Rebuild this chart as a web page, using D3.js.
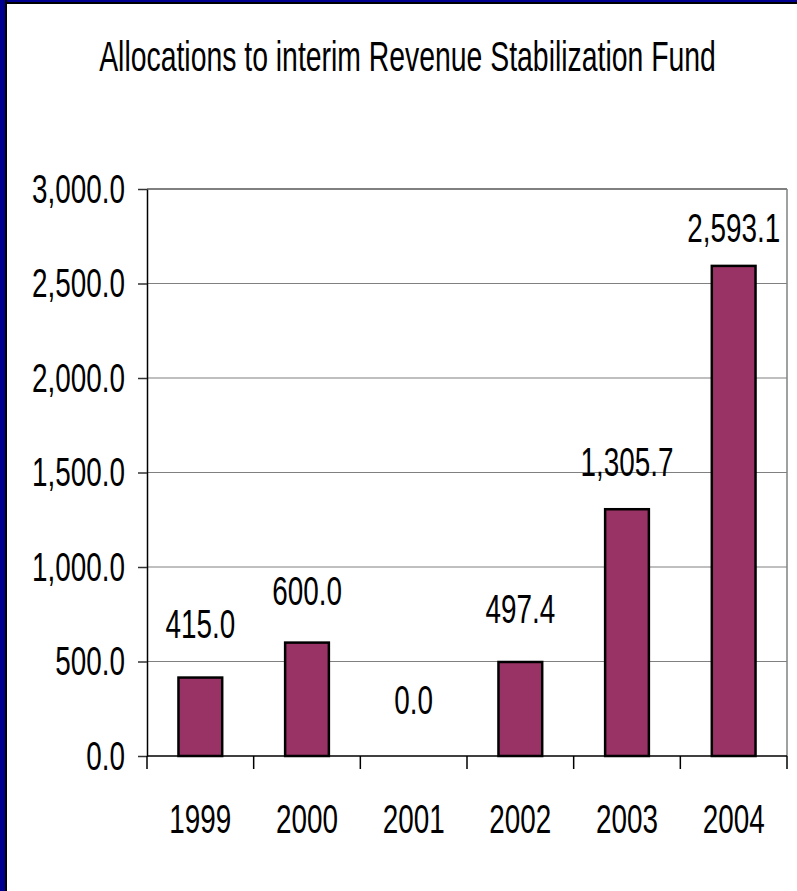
<!DOCTYPE html>
<html>
<head>
<meta charset="utf-8">
<script src="https://cdn.jsdelivr.net/npm/d3@7"></script>
<style>
  html, body { margin: 0; padding: 0; background: #fff; }
  svg { display: block; }
  text { font-family: "Liberation Sans", Arial, sans-serif; fill: #000; }
</style>
</head>
<body>
<div id="chart"></div>
<script>
const title = "Allocations to interim Revenue Stabilization Fund";
const categories = ["1999", "2000", "2001", "2002", "2003", "2004"];
const values = [415.0, 600.0, 0.0, 497.4, 1305.7, 2593.1];
const yTicks = [0, 500, 1000, 1500, 2000, 2500, 3000];

const W = 797, H = 891;
const plot = { left: 147, right: 787, top: 189, bottom: 756 };
const fontSize = 41, sx = 0.68;
const fmt = d3.format(",.1f");

const svg = d3.select("#chart").append("svg").attr("width", W).attr("height", H);
svg.append("rect").attr("width", W).attr("height", H).attr("fill", "#fff");

// frame (blue + black edge on left and top)
svg.append("rect").attr("x", 0).attr("y", 0).attr("width", W).attr("height", 4).attr("fill", "#000");
svg.append("rect").attr("x", 0).attr("y", 0).attr("width", W).attr("height", 2).attr("fill", "#000090");
svg.append("rect").attr("x", 0).attr("y", 0).attr("width", 7).attr("height", H).attr("fill", "#000");
svg.append("rect").attr("x", 0).attr("y", 0).attr("width", 5).attr("height", H).attr("fill", "#000090");

const x = d3.scaleBand().domain(categories).range([plot.left, plot.right]).paddingInner(0.59).paddingOuter(0.295);
const y = d3.scaleLinear().domain([0, 3000]).range([plot.bottom, plot.top]);

// title
svg.append("g").attr("transform", `translate(407.5,71) scale(0.66,1)`)
  .append("text").attr("text-anchor", "middle").attr("font-size", 43).text(title);

// gridlines
svg.append("g").selectAll("line").data(yTicks.filter(d => d > 0)).join("line")
  .attr("x1", plot.left).attr("x2", plot.right)
  .attr("y1", d => y(d)).attr("y2", d => y(d))
  .attr("stroke", "#808080").attr("stroke-width", d => d === 3000 ? 2 : 1.2);
// right border of plot
svg.append("line").attr("x1", plot.right).attr("x2", plot.right)
  .attr("y1", plot.top).attr("y2", plot.bottom).attr("stroke", "#808080").attr("stroke-width", 1.5);

// bars
svg.append("g").selectAll("rect").data(values).join("rect")
  .attr("x", (d, i) => x(categories[i]))
  .attr("width", x.bandwidth())
  .attr("y", d => y(d))
  .attr("height", d => y(0) - y(d))
  .attr("fill", "#993366")
  .attr("stroke", "#000").attr("stroke-width", 2.5);

// y axis
const yAxis = svg.append("g").attr("transform", `translate(${plot.left},0)`)
  .call(d3.axisLeft(y).tickValues(yTicks).tickFormat(fmt).tickSize(9).tickSizeOuter(0));
yAxis.select(".domain").attr("stroke", "#000").attr("stroke-width", 1.5);
yAxis.selectAll(".tick line").attr("stroke", "#333").attr("stroke-width", 1.5);
yAxis.selectAll(".tick text").attr("font-size", fontSize).attr("font-family", null)
  .attr("x", -22 / sx)
  .attr("transform", `scale(${sx},1)`);

// x axis line and tick marks at band boundaries
svg.append("line").attr("x1", plot.left).attr("x2", plot.right)
  .attr("y1", y(0)).attr("y2", y(0)).attr("stroke", "#000").attr("stroke-width", 1.5);
const bounds = categories.map(c => x(c) - x.step() * x.paddingInner() / 2).concat([plot.right]);
svg.append("g").selectAll("line").data(bounds).join("line")
  .attr("x1", d => d).attr("x2", d => d)
  .attr("y1", y(0)).attr("y2", y(0) + 13)
  .attr("stroke", "#000").attr("stroke-width", 1.5);

// x labels
svg.append("g").selectAll("g").data(categories).join("g")
  .attr("transform", d => `translate(${x(d) + x.bandwidth() / 2},833) scale(${sx},1)`)
  .append("text").attr("text-anchor", "middle").attr("font-size", fontSize).text(d => d);

// value labels
svg.append("g").selectAll("g").data(values).join("g")
  .attr("transform", (d, i) => {
    const h = y(0) - y(d);
    const off = 42 - h * 0.036;
    return `translate(${x(categories[i]) + x.bandwidth() / 2},${y(d) - off}) scale(${sx},1)`;
  })
  .append("text").attr("text-anchor", "middle").attr("font-size", fontSize).text(d => fmt(d));
</script>
</body>
</html>
